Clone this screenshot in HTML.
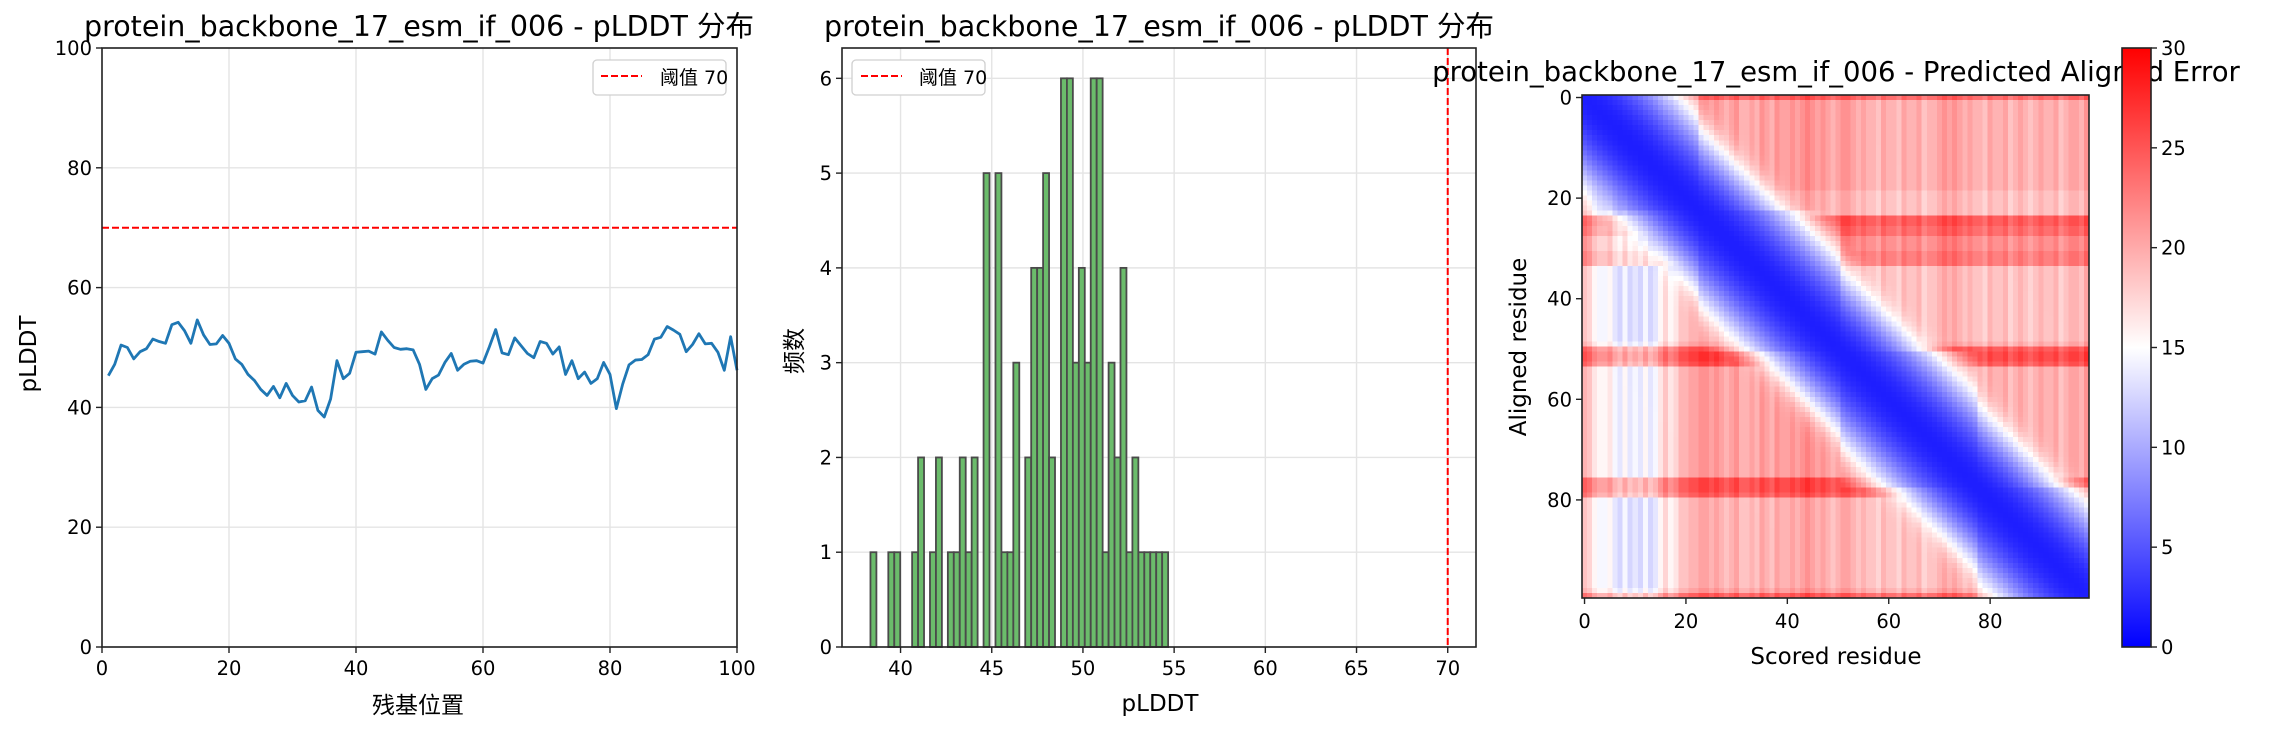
<!DOCTYPE html>
<html><head><meta charset="utf-8"><style>
html,body{margin:0;padding:0;background:#fff;}
svg{display:block;font-family:"DejaVu Sans","Liberation Sans","Noto Sans CJK SC",sans-serif;}
</style></head><body>
<svg id="fig" width="2279" height="730" viewBox="0 0 2279 730" xmlns="http://www.w3.org/2000/svg">
<rect x="0" y="0" width="2279" height="730" fill="#fff"/>
<g id="p1"></g>
<g id="p2"></g>
<g id="p3"></g>
</svg>
<script>
// ---- Panel 1 data ----
const residueValues = [45.3,47.2,50.4,50.0,48.1,49.3,49.8,51.4,51.0,50.7,53.8,54.2,52.8,50.7,54.6,52.1,50.5,50.6,52.0,50.7,
48.1,47.2,45.5,44.5,43.0,42.0,43.5,41.6,44.0,42.0,40.9,41.1,43.4,39.5,38.4,41.4,47.8,44.8,45.7,49.2,
49.3,49.4,48.9,52.6,51.2,50.0,49.7,49.8,49.6,47.2,43.0,44.8,45.4,47.5,49.0,46.2,47.2,47.7,47.8,47.4,
50.1,53.0,49.1,48.8,51.6,50.3,49.0,48.3,51.0,50.7,48.9,50.1,45.5,47.8,44.8,45.9,44.0,44.8,47.5,45.5,
39.8,43.9,47.1,47.9,48.0,48.8,51.4,51.7,53.5,52.9,52.2,49.3,50.5,52.3,50.6,50.7,49.2,46.2,51.8,46.2];
const lineTicks = [0,20,40,60,80,100];
const threshold = 70;
// ---- Panel 2 data ----
const histCounts = [1,0,0,1,1,0,0,1,2,0,1,2,0,1,1,2,1,2,0,5,0,5,1,1,3,0,2,4,4,5,2,0,6,6,3,4,3,6,6,1,3,2,4,1,2,1,1,1,1,1];
const histRange = [38.35,54.67];
const histXTicks = [40,45,50,55,60,65,70];
const histYTicks = [0,1,2,3,4,5,6];
// ---- Panel 3 data ----
const paeRowOffset = [4,0,0,0,0,0,0,0,0,0, 0,0,0,0,0,0,0,0,0,-1, -1,-1,-1,-1,5,5,4,4,2,2, 2,3,3,3,-1,-1,-1,-1,-1,-1, -1,-1,-1,-1,-1,-1,-1,-1,-1,0, 5,6,6,5,0,0,0,0,0,0, 0,0,0,0,0,0,0,0,0,0, 0,0,0,0,0,0,5,5,5,4, -1,-1,-1,-1,-1,-1,-1,-1,-1,-1, -1,-1,-1,-1,-1,-1,-1,-1,0,4];
const paeColOffset = [0,-1,-3,-4,-4,-3,-5,-6,-4,-6, -5,-6,-4,-6,-5,-3,-1,-3,-2,0, 0,1,1,2,2,1,2,1,0,1, 2,0,0,1,0,2,1,0,2,1, 1,2,1,2,3,2,1,2,1,0, 1,2,2,1,0,1,0,0,-1,1, 0,0,-1,1,0,0,1,-1,0,0, 1,2,1,2,1,0,1,0,0,-1, 1,0,0,1,-1,0,1,0,-1,0, 1,0,0,1,-1,0,1,1,0,2];
const paeDomain = [0,0,0,0,0,0,0,0,0,0, 0,0,0,0,0,0,0,0,0,0, 0,0,0,1,1,1,1,1,1,1, 1,1,1,1,1,1,1,1,1,1, 1,1,1,1,1,1,1,1,1,1, 1,2,2,2,2,2,2,2,2,2, 2,2,2,2,2,2,2,2,2,2, 2,2,2,2,2,2,2,2,3,3, 3,3,3,3,3,3,3,3,3,3, 3,3,3,3,3,3,3,3,3,3];
const paeBase = 18;
const cbarTicks = [0,5,10,15,20,25,30];
const heatTicks = [0,20,40,60,80];

const NS='http://www.w3.org/2000/svg';
function mk(parent,tag,attrs,text){const e=document.createElementNS(NS,tag);for(const k in attrs)e.setAttribute(k,attrs[k]);if(text!==undefined)e.textContent=text;parent.appendChild(e);return e;}
const TICKC='#222';

// ===== Panel 1 =====
(function(){
const g=document.getElementById('p1');
const L=102,R=737,T=48,B=647;
const sx=v=>L+(v-0)/(100-0)*(R-L);
const sy=v=>B-(v-0)/(100-0)*(B-T);
lineTicks.forEach(t=>{
  let gl=mk(g,'line',{x1:sx(t),x2:sx(t),y1:T,y2:B,stroke:'#e4e4e4','stroke-width':1.4});
  
  
  let hl=mk(g,'line',{x1:L,x2:R,y1:sy(t),y2:sy(t),stroke:'#e4e4e4','stroke-width':1.4});
  
  
});
let th=mk(g,'line',{x1:L,x2:R,y1:sy(threshold),y2:sy(threshold),stroke:'#ff0000','stroke-width':2,'stroke-dasharray':'7,3'});


const pts=residueValues.map((v,i)=>sx(i+1).toFixed(2)+','+sy(v).toFixed(2)).join(' ');
let pl=mk(g,'polyline',{points:pts,fill:'none',stroke:'#1f77b4','stroke-width':2.8,'stroke-linejoin':'round'});


mk(g,'rect',{x:L,y:T,width:R-L,height:B-T,fill:'none',stroke:TICKC,'stroke-width':1.6,});
lineTicks.forEach(t=>{
  mk(g,'line',{x1:sx(t),x2:sx(t),y1:B,y2:B+6,stroke:TICKC,'stroke-width':1.4});
  let tx=mk(g,'text',{x:sx(t),y:B+28,'font-size':19.5,'text-anchor':'middle',fill:'#000'},String(t));
  
  
  mk(g,'line',{x1:L-6,x2:L,y1:sy(t),y2:sy(t),stroke:TICKC,'stroke-width':1.4});
  let ty=mk(g,'text',{x:L-10,y:sy(t)+7,'font-size':19.5,'text-anchor':'end',fill:'#000'},String(t));
  
  
});
mk(g,'text',{x:419,y:36,'font-size':28.5,'text-anchor':'middle',},'protein_backbone_17_esm_if_006 - pLDDT 分布');
mk(g,'text',{x:418,y:713,'font-size':23,'text-anchor':'middle',},'残基位置');
mk(g,'text',{x:36,y:354,'font-size':23,'text-anchor':'middle',transform:'rotate(-90 36 354)',},'pLDDT');
const lg=mk(g,'g',{});
mk(lg,'rect',{x:593,y:60,width:133,height:35,rx:4,fill:'#fff',stroke:'#d0d0d0','stroke-width':1.3});
mk(lg,'line',{x1:601,x2:642,y1:76,y2:76,stroke:'#ff0000','stroke-width':2,'stroke-dasharray':'7,3'});
mk(lg,'text',{x:660,y:84,'font-size':19},'阈值 70');
})();

// ===== Panel 2 =====
(function(){
const g=document.getElementById('p2');
const L=842,R=1476,T=48,B=647;
const x0=36.79,x1=71.55,y0=0,y1=6.32;
const sx=v=>L+(v-x0)/(x1-x0)*(R-L);
const sy=v=>B-(v-y0)/(y1-y0)*(B-T);
histXTicks.forEach(t=>{let l=mk(g,'line',{x1:sx(t),x2:sx(t),y1:T,y2:B,stroke:'#e4e4e4','stroke-width':1.4});});
histYTicks.forEach(t=>{let l=mk(g,'line',{x1:L,x2:R,y1:sy(t),y2:sy(t),stroke:'#e4e4e4','stroke-width':1.4});});
const bw=(histRange[1]-histRange[0])/histCounts.length;
histCounts.forEach((c,i)=>{
  if(c<=0)return;
  const a=histRange[0]+i*bw;
  let r=mk(g,'rect',{x:sx(a),y:sy(c),width:sx(a+bw)-sx(a),height:sy(0)-sy(c),fill:'#6bbc6b',stroke:'#4a4a4a','stroke-width':1.8});
  
  
});
let vl=mk(g,'line',{x1:sx(threshold),x2:sx(threshold),y1:T,y2:B,stroke:'#ff0000','stroke-width':2,'stroke-dasharray':'7,3'});


mk(g,'rect',{x:L,y:T,width:R-L,height:B-T,fill:'none',stroke:TICKC,'stroke-width':1.6,});
histXTicks.forEach(t=>{
  mk(g,'line',{x1:sx(t),x2:sx(t),y1:B,y2:B+6,stroke:TICKC,'stroke-width':1.4});
  let tx=mk(g,'text',{x:sx(t),y:B+28,'font-size':19.5,'text-anchor':'middle'},String(t));
  
  
});
histYTicks.forEach(t=>{
  mk(g,'line',{x1:L-6,x2:L,y1:sy(t),y2:sy(t),stroke:TICKC,'stroke-width':1.4});
  let ty=mk(g,'text',{x:L-10,y:sy(t)+7,'font-size':19.5,'text-anchor':'end'},String(t));
  
  
});
mk(g,'text',{x:1159,y:36,'font-size':28.5,'text-anchor':'middle',},'protein_backbone_17_esm_if_006 - pLDDT 分布');
mk(g,'text',{x:1160,y:711,'font-size':23,'text-anchor':'middle',},'pLDDT');
mk(g,'text',{x:802,y:351,'font-size':23,'text-anchor':'middle',transform:'rotate(-90 802 351)',},'频数');
const lg=mk(g,'g',{});
mk(lg,'rect',{x:852,y:60,width:133,height:35,rx:4,fill:'#fff',stroke:'#d0d0d0','stroke-width':1.3});
mk(lg,'line',{x1:861,x2:902,y1:76,y2:76,stroke:'#ff0000','stroke-width':2,'stroke-dasharray':'7,3'});
mk(lg,'text',{x:919,y:84,'font-size':19},'阈值 70');
})();

// ===== Panel 3 =====
(function(){
const g=document.getElementById('p3');
const L=1582,R=2089,T=95,B=598,N=100;
const cw=(R-L)/N,ch=(B-T)/N;
const sx=v=>L+(v+0.5)*cw;
const sy=v=>T+(v+0.5)*ch;
function bwr(v){const t=Math.max(0,Math.min(1,v/30));let r,gg,b;
  if(t<0.5){const u=t/0.5;r=255*u;gg=255*u;b=255;}else{const u=(t-0.5)/0.5;r=255;gg=255*(1-u);b=255*(1-u);}
  return 'rgb('+Math.round(r)+','+Math.round(gg)+','+Math.round(b)+')';}
const hg=mk(g,'g',{'shape-rendering':'crispEdges',});
for(let i=0;i<N;i++){for(let j=0;j<N;j++){
  const far=paeBase+paeRowOffset[i]+paeColOffset[j];
  const d=Math.abs(i-j);
  const same=paeDomain[i]===paeDomain[j];
  const near=same?0.3+0.04*d*d:0.3+0.05*d*d;
  const k=3;
  const v=-k*Math.log(Math.exp(-far/k)+Math.exp(-near/k));
  const c=mk(hg,'rect',{x:(L+j*cw).toFixed(2),y:(T+i*ch).toFixed(2),width:(cw+0.6).toFixed(2),height:(ch+0.6).toFixed(2),fill:bwr(Math.max(0,v+1.5))});
  
  
}}
mk(g,'rect',{x:L,y:T,width:R-L,height:B-T,fill:'none',stroke:TICKC,'stroke-width':1.6,});
heatTicks.forEach(t=>{
  mk(g,'line',{x1:sx(t),x2:sx(t),y1:B,y2:B+6,stroke:TICKC,'stroke-width':1.4});
  let tx=mk(g,'text',{x:sx(t),y:B+30,'font-size':19.5,'text-anchor':'middle'},String(t));
  
  
  mk(g,'line',{x1:L-6,x2:L,y1:sy(t),y2:sy(t),stroke:TICKC,'stroke-width':1.4});
  let ty=mk(g,'text',{x:L-10,y:sy(t)+7,'font-size':19.5,'text-anchor':'end'},String(t));
  
  
});
mk(g,'text',{x:1836,y:81,'font-size':27.5,'text-anchor':'middle',},'protein_backbone_17_esm_if_006 - Predicted Aligned Error');
mk(g,'text',{x:1836,y:664,'font-size':23,'text-anchor':'middle',},'Scored residue');
mk(g,'text',{x:1526,y:347,'font-size':23,'text-anchor':'middle',transform:'rotate(-90 1526 347)',},'Aligned residue');
// colorbar
const CL=2122,CR=2151,CT=48,CB=647;
const defs=mk(g,'defs',{});
const gr=mk(defs,'linearGradient',{id:'bwr',x1:0,y1:1,x2:0,y2:0});
mk(gr,'stop',{offset:'0','stop-color':'rgb(0,0,255)'});
mk(gr,'stop',{offset:'0.5','stop-color':'rgb(255,255,255)'});
mk(gr,'stop',{offset:'1','stop-color':'rgb(255,0,0)'});
mk(g,'rect',{x:CL,y:CT,width:CR-CL,height:CB-CT,fill:'url(#bwr)',stroke:TICKC,'stroke-width':1.6,});
const cy=v=>CB-(v/30)*(CB-CT);
cbarTicks.forEach(t=>{
  mk(g,'line',{x1:CR,x2:CR+6,y1:cy(t),y2:cy(t),stroke:TICKC,'stroke-width':1.4});
  let tl=mk(g,'text',{x:CR+10,y:cy(t)+7,'font-size':19.5},String(t));
  
  
});
})();
</script>
</body></html>
